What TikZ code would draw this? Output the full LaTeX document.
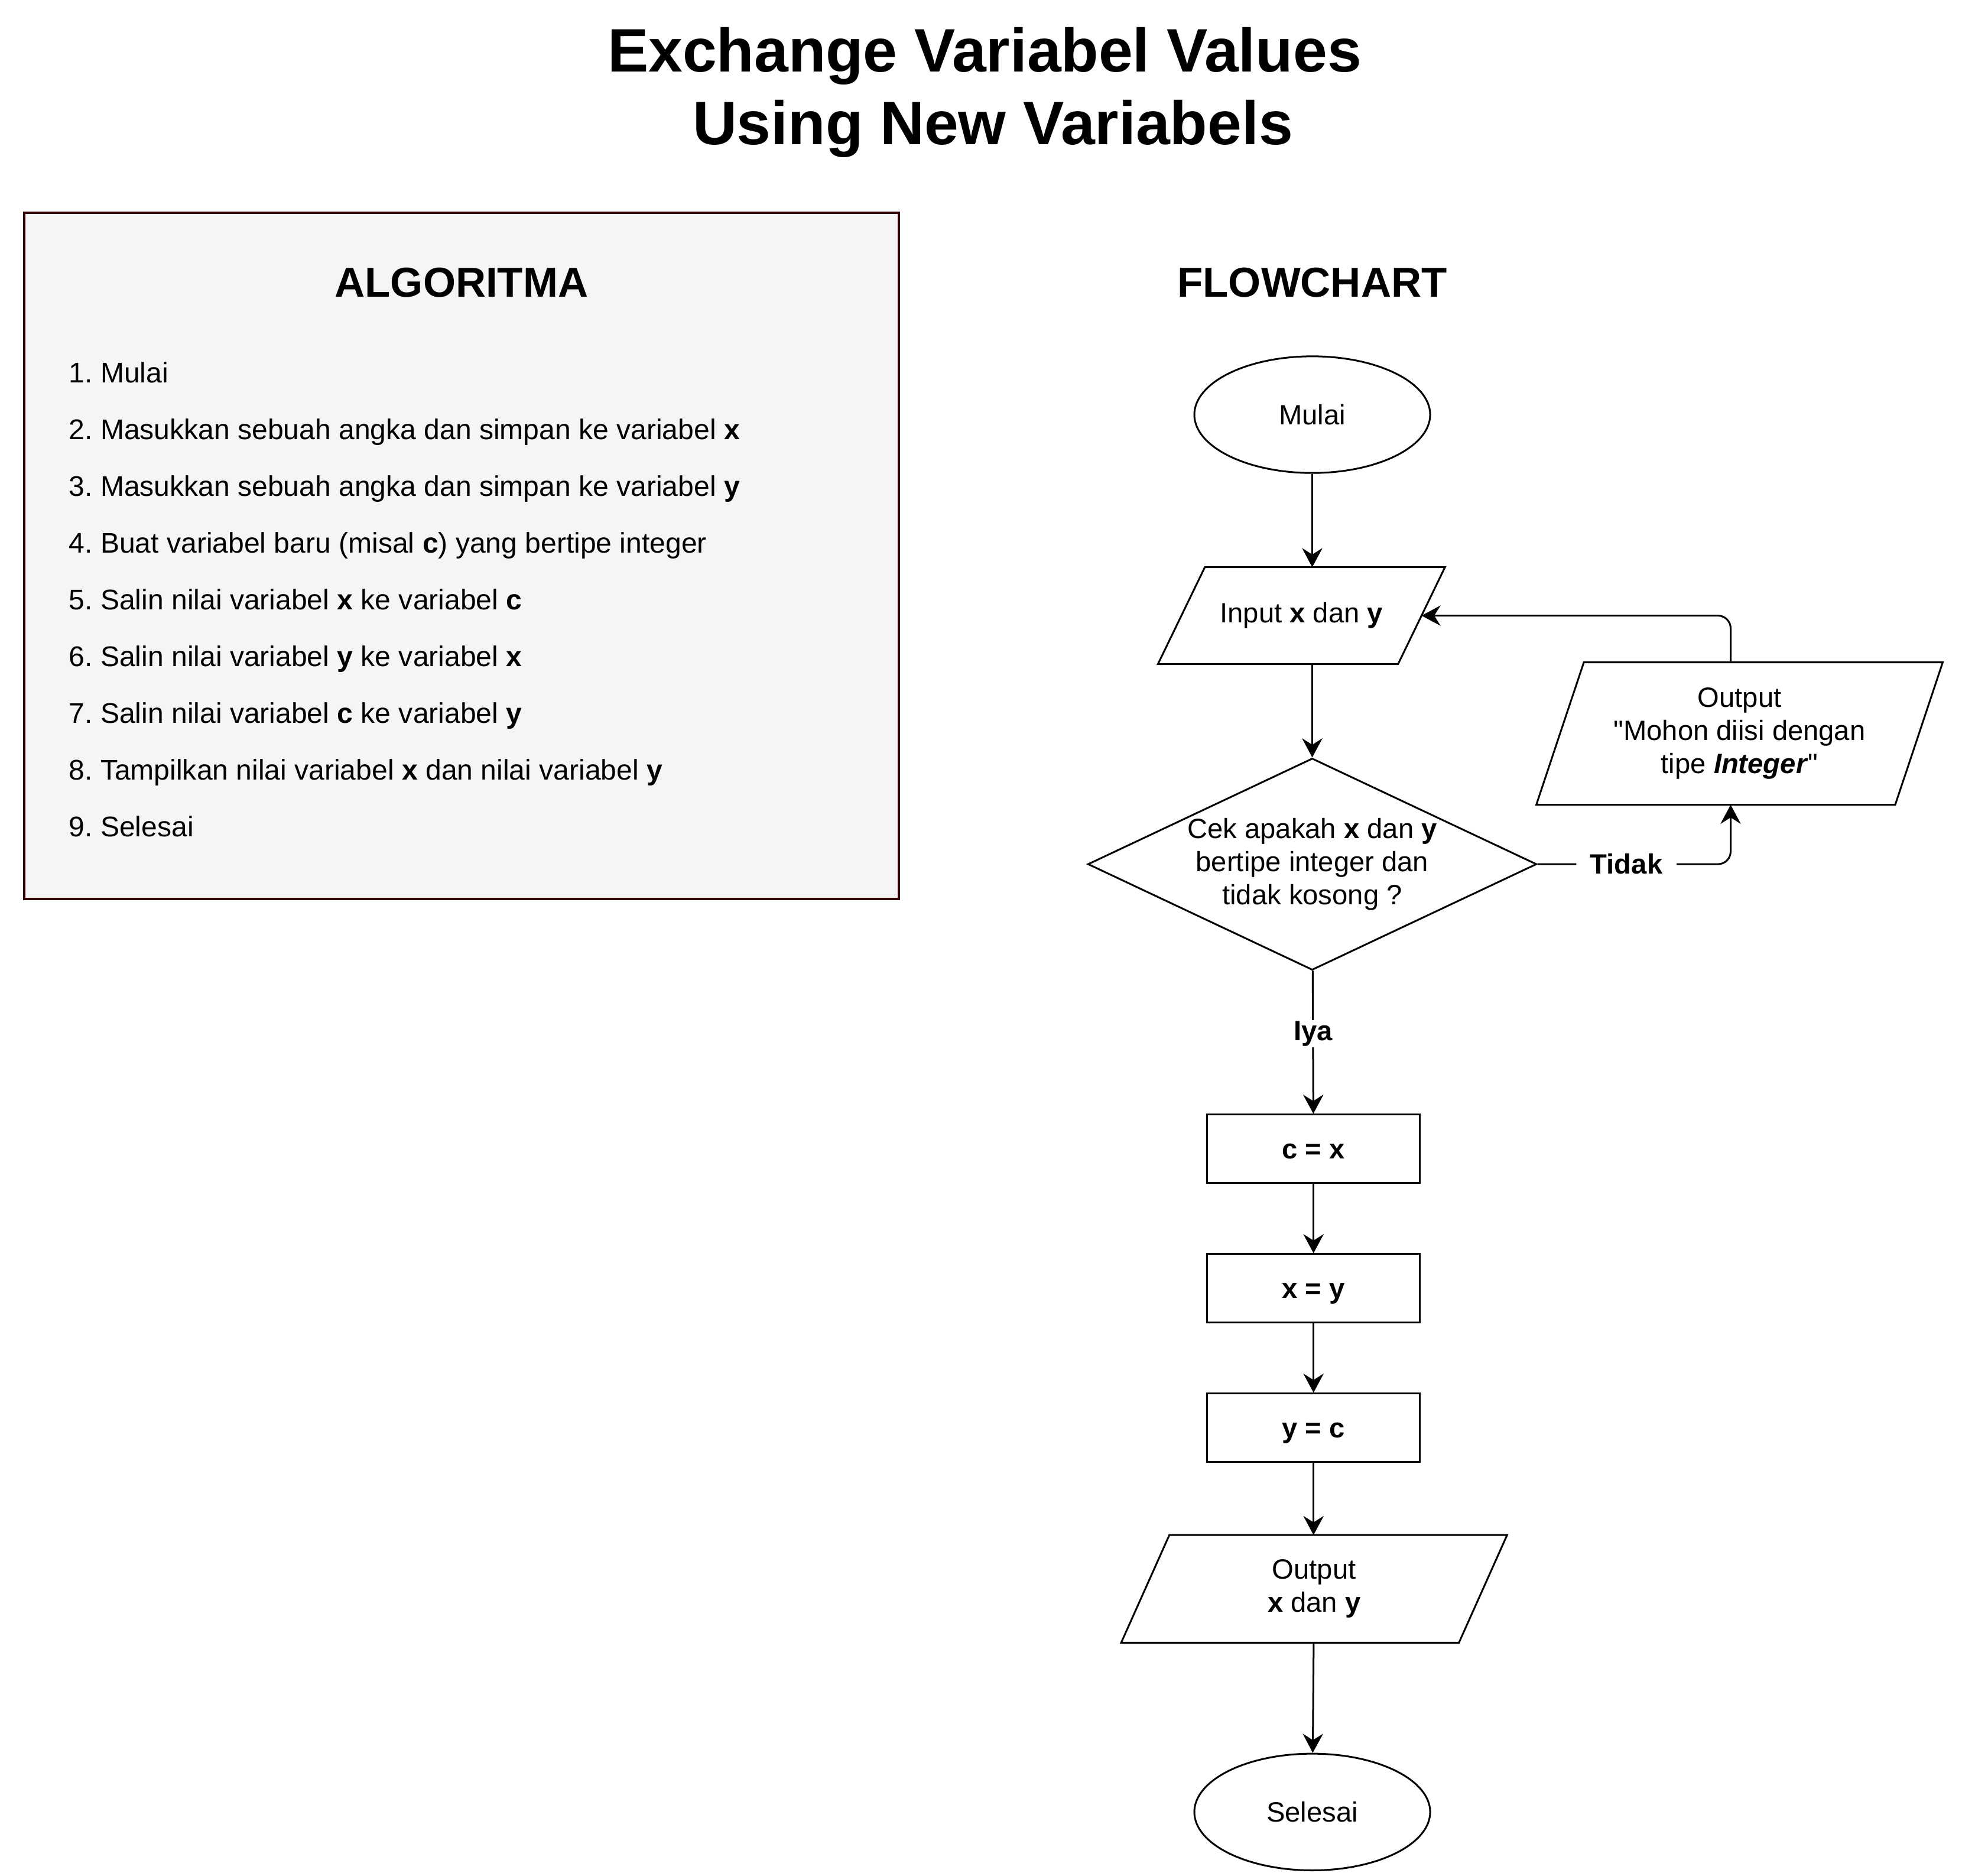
\documentclass[tikz,border=0pt]{standalone}
\usepackage{fontspec}
\setmainfont{Liberation Sans}[Ligatures=TeXOff]
\usetikzlibrary{shapes.geometric,arrows.meta}

\definecolor{boxfill}{HTML}{F5F5F5}
\definecolor{boxline}{HTML}{330000}

\begin{document}
\frenchspacing
\begin{tikzpicture}[x=0.5pt,y=0.5pt,yscale=-1,xscale=1,
    txt/.style={font=\fontsize{11.2}{13}\selectfont, inner sep=0pt, anchor=base west},
    heading/.style={font=\fontsize{16.5}{20}\selectfont\bfseries, inner sep=0.75pt},
    bigtitle/.style={font=\fontsize{24.2}{29}\selectfont\bfseries, inner sep=0pt},
    flow/.style={draw, line width=0.7pt, font=\fontsize{11}{13}\selectfont, align=center, inner sep=0pt},
    terminal/.style={flow, ellipse, minimum width=93pt, minimum height=46pt},
    process/.style={flow, rectangle, minimum width=84pt, minimum height=27pt, text height=10pt, text depth=2.3pt, font=\fontsize{11}{13}\selectfont\bfseries},
    io/.style={flow, draw=none, rectangle},
    para/.style={line width=0.7pt, line join=miter},
    decision/.style={flow, diamond, aspect=2.12, minimum width=177pt, minimum height=83.5pt, inner sep=-3pt},
    arr/.style={line width=0.7pt, -{Stealth[length=7.5pt,width=8pt,inset=2.5pt]}},
    lbl/.style={fill=white, font=\fontsize{11}{13}\selectfont\bfseries, inner xsep=5.5pt, inner ysep=0.5pt}]
    \useasboundingbox (0,0) rectangle (1568,1477);

    % Title
    \node[bigtitle] (title) at (776.5,44) {Exchange Variabel Values};
    \node[bigtitle] (subtitle) at (783,101.5) {Using New Variabels};

    %Shape: Rectangle [algoritma]
    \draw[draw=boxline, fill=boxfill, line width=0.95pt] (19,168) rectangle (709,709);
    \node[heading] (algtitle) at (364,223) {ALGORITMA};

    % Text Node
    \node[txt] (alg1) at (54,302) {1. Mulai};
    \node[txt] (alg2) at (54,346.75) {2. Masukkan sebuah angka dan simpan ke variabel \textbf{x}};
    \node[txt] (alg3) at (54,391.5) {3. Masukkan sebuah angka dan simpan ke variabel \textbf{y}};
    \node[txt] (alg4) at (54,436.25) {4. Buat variabel baru (misal \textbf{c}) yang bertipe integer};
    \node[txt] (alg5) at (54,481) {5. Salin nilai variabel \textbf{x} ke variabel \textbf{c}};
    \node[txt] (alg6) at (54,525.75) {6. Salin nilai variabel \textbf{y} ke variabel \textbf{x}};
    \node[txt] (alg7) at (54,570.5) {7. Salin nilai variabel \textbf{c} ke variabel \textbf{y}};
    \node[txt] (alg8) at (54,615.25) {8. Tampilkan nilai variabel \textbf{x} dan nilai variabel \textbf{y}};
    \node[txt] (alg9) at (54,660) {9. Selesai};

    % Flowchart
    \node[heading] (flowtitle) at (1035,223) {FLOWCHART};

    \node[terminal] (mulai) at (1035,327) {Mulai};
    \node[io, minimum width=112.5pt, minimum height=37.5pt] (input) at (1026.5,485.5) {Input \textbf{x} dan \textbf{y}};
    \node[decision] (dec) at (1035,681.5) {Cek apakah \textbf{x} dan \textbf{y}\\bertipe integer dan\\tidak kosong ?};
    \node[io, minimum width=159.6pt, minimum height=55.5pt] (err) at (1372,578.5) {Output\\"Mohon diisi dengan\\tipe \textbf{\textit{Integer}}"};
    \node[process] (cx) at (1036,906) {c = x};
    \node[process] (xy) at (1036,1016) {x = y};
    \node[process] (yc) at (1036,1126) {y = c};
    \node[io, minimum width=151.5pt, minimum height=41.75pt] (outxy) at (1036.5,1253) {Output\\\textbf{x} dan \textbf{y}};
    \node[terminal] (selesai) at (1035,1429) {Selesai};

    %Shape: Parallelogram
    \draw[para] ([xshift=18.5pt]input.north west) -- (input.north east) -- ([xshift=-18.5pt]input.south east) -- (input.south west) -- cycle;
    \draw[para] ([xshift=18.75pt]err.north west) -- (err.north east) -- ([xshift=-18.75pt]err.south east) -- (err.south west) -- cycle;
    \draw[para] ([xshift=19pt]outxy.north west) -- (outxy.north east) -- ([xshift=-19pt]outxy.south east) -- (outxy.south west) -- cycle;

    %Straight Lines
    \draw[arr] (mulai) -- (mulai |- input.north);
    \draw[arr] (dec.north |- input.south) -- (dec);
    \draw[arr] (dec) -- node[lbl, pos=0.44] (iya) {Iya} (cx);
    \draw[arr] (cx) -- (xy);
    \draw[arr] (xy) -- (yc);
    \draw[arr] (yc) -- (yc |- outxy.north);
    \draw[arr] (outxy) -- (selesai);
    % loop back
    \draw[arr, rounded corners=5pt] (dec.east) -| node[lbl, pos=0.23] (tidak) {Tidak} ([xshift=-3.5pt]err.south);
    \draw[arr, rounded corners=5pt] ([xshift=-3.5pt]err.north) |- ([xshift=-9.25pt]input.east);

\end{tikzpicture}
\end{document}
